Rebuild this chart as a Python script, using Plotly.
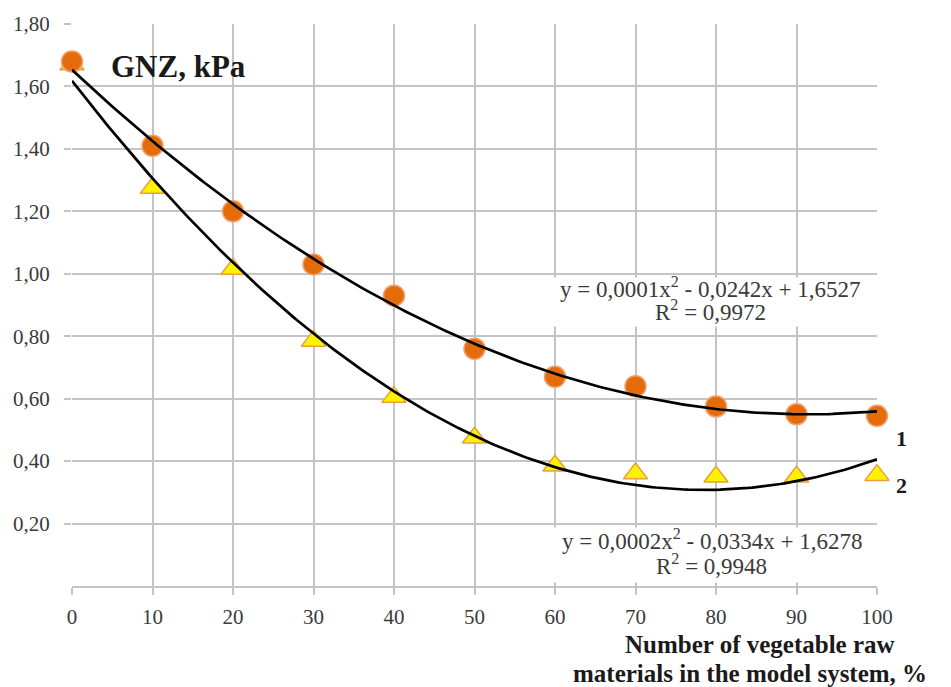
import numpy as np
import plotly.graph_objects as go

x_vals = [0, 10, 20, 30, 40, 50, 60, 70, 80, 90, 100]
gnz_1 = [1.68, 1.41, 1.20, 1.03, 0.93, 0.76, 0.67, 0.64, 0.575, 0.55, 0.545]
gnz_2 = [1.67, 1.275, 1.015, 0.785, 0.605, 0.475, 0.385, 0.36, 0.35, 0.35, 0.355]
eq_1 = ["y = 0,0001x<sup>2</sup> - 0,0242x + 1,6527", "R<sup>2</sup> = 0,9972"]
eq_2 = ["y = 0,0002x<sup>2</sup> - 0,0334x + 1,6278", "R<sup>2</sup> = 0,9948"]
x_title = ["Number of vegetable raw", "materials in the model system, %"]
y_ticks = [0.2, 0.4, 0.6, 0.8, 1.0, 1.2, 1.4, 1.6, 1.8]
x_ticks = list(range(0, 101, 10))

SERIF = "Liberation Serif"
GRID = "#C4C4C4"
TXT = "#3a3a3a"

xs = np.linspace(0, 100, 201)
fit1 = np.polyval(np.polyfit(x_vals, gnz_1, 2), xs)
fit2 = np.polyval(np.polyfit(x_vals, gnz_2, 2), xs)

fig = go.Figure()
fig.add_trace(go.Scatter(x=x_vals, y=gnz_2, mode="markers", cliponaxis=False,
                         marker=dict(symbol="triangle-up", size=21, color="#FFF200",
                                     line=dict(color="#E5A03C", width=1.5)),
                         showlegend=False))
fig.add_trace(go.Scatter(x=x_vals, y=gnz_1, mode="markers", cliponaxis=False,
                         marker=dict(symbol="circle", size=21, color="#E46C0A",
                                     line=dict(color="#F0A070", width=1.5)),
                         showlegend=False))
fig.add_trace(go.Scatter(x=xs, y=fit1, mode="lines", line=dict(color="black", width=2.7),
                         showlegend=False, hoverinfo="skip"))
fig.add_trace(go.Scatter(x=xs, y=fit2, mode="lines", line=dict(color="black", width=2.7),
                         showlegend=False, hoverinfo="skip"))

def eq_line(x, y, text):
    return dict(x=x, y=y, xref="x", yref="y", text=text, showarrow=False,
                xanchor="center", yanchor="middle",
                font=dict(family=SERIF, size=23, color=TXT))

def eq_box(x, y, w, h):
    # blank white label box drawn under the equation text (hides gridlines)
    return dict(x=x, y=y, xref="x", yref="y", text=" ", showarrow=False,
                xanchor="center", yanchor="middle", width=w, height=h,
                bgcolor="white", borderpad=0, font=dict(size=10))

def title_line(x, y, text):
    return dict(x=x, y=y, xref="paper", yref="paper", text="<b>" + text + "</b>",
                showarrow=False, xanchor="center", yanchor="middle",
                font=dict(family=SERIF, size=25, color="#1a1a1a"))

annotations = [
    dict(x=4.6, y=1.665, xref="x", yref="y", text="<b>GNZ, kPa</b>", showarrow=False,
         xanchor="left", yanchor="middle", font=dict(family=SERIF, size=31, color="#1a1a1a")),
    eq_box(78.3, 0.91, 322, 48),
    eq_box(78.6, 0.098, 318, 54),
    eq_line(79.3, 0.956, eq_1[0]),
    eq_line(79.3, 0.882, eq_1[1]),
    eq_line(79.5, 0.150, eq_2[0]),
    eq_line(79.5, 0.068, eq_2[1]),
    dict(x=1.031, y=0.262, xref="paper", yref="paper", text="<b>1</b>", showarrow=False,
         xanchor="center", yanchor="middle", font=dict(family=SERIF, size=22, color="#1a1a1a")),
    dict(x=1.031, y=0.179, xref="paper", yref="paper", text="<b>2</b>", showarrow=False,
         xanchor="center", yanchor="middle", font=dict(family=SERIF, size=22, color="#1a1a1a")),
    title_line(0.855, -0.1037, x_title[0]),
    title_line(0.842, -0.1564, x_title[1]),
]

fig.update_layout(
    width=951, height=687,
    margin=dict(l=72, r=74, t=17, b=101),
    paper_bgcolor="white", plot_bgcolor="white",
    separators=", ",
    annotations=annotations,
    showlegend=False,
)
fig.update_xaxes(range=[0, 100], tickvals=x_ticks, showgrid=True, gridcolor=GRID, gridwidth=1.5,
                 zeroline=False, showline=True, linecolor=GRID, linewidth=1.5,
                 ticks="outside", ticklen=7, tickcolor=GRID, tickwidth=1.5,
                 ticklabelstandoff=4,
                 tickfont=dict(family=SERIF, size=21, color=TXT))
fig.update_yaxes(range=[0, 1.8], tickvals=y_ticks, tickformat=".2f", showgrid=True,
                 gridcolor=GRID, gridwidth=1.5, zeroline=False, showline=False,
                 ticks="outside", ticklen=7, tickcolor=GRID, tickwidth=1.5,
                 ticklabelstandoff=10,
                 tickfont=dict(family=SERIF, size=21, color=TXT))

fig.write_html("out.html")
